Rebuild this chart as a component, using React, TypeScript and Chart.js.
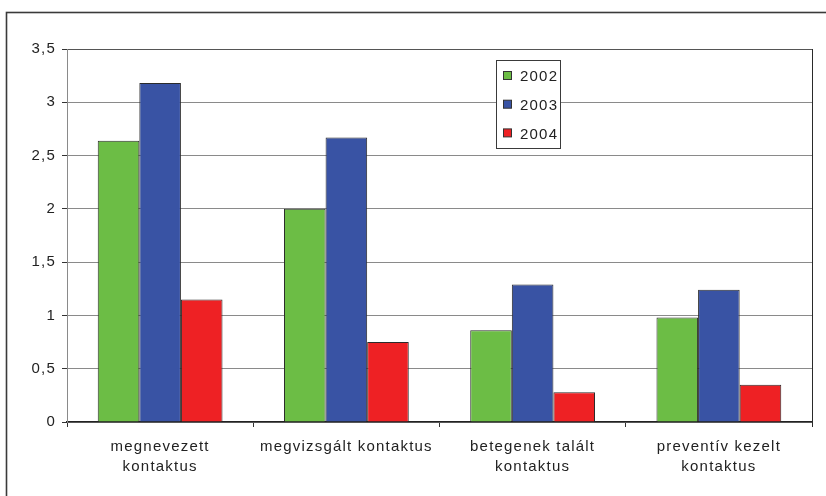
import React, { useEffect, useRef } from "react";
import { Chart, registerables } from "chart.js";

Chart.register(...registerables);

const categories: string[][] = [
  ["megnevezett", "kontaktus"],
  ["megvizsgált kontaktus"],
  ["betegenek talált", "kontaktus"],
  ["preventív kezelt", "kontaktus"],
];
const seriesNames = ["2002", "2003", "2004"];
const values2002 = [2.64, 2.0, 0.86, 0.98];
const values2003 = [3.18, 2.67, 1.29, 1.24];
const values2004 = [1.15, 0.75, 0.28, 0.35];
const seriesColors = ["#6cbd45", "#3953a4", "#ee2124"];

const FONT = "'Liberation Sans', Arial, sans-serif";
const SPACING = "1.2px";

const spacingPlugin = {
  id: "spacing",
  beforeUpdate(chart: any) {
    chart.ctx.letterSpacing = SPACING;
  },
  beforeDraw(chart: any) {
    const ctx = chart.ctx;
    ctx.letterSpacing = SPACING;
    ctx.save();
    ctx.fillStyle = "#ffffff";
    ctx.fillRect(0, 0, chart.width, chart.height);
    ctx.strokeStyle = "#3a3a3a";
    ctx.lineWidth = 1.6;
    ctx.strokeRect(6.5, 12.5, chart.width + 20, chart.height + 20);
    ctx.restore();
  },
  afterDraw(chart: any) {
    const ctx = chart.ctx;
    const a = chart.chartArea;
    ctx.save();
    ctx.strokeStyle = "#2a2a2a";
    ctx.lineWidth = 1;
    ctx.beginPath();
    ctx.moveTo(Math.round(a.right) + 0.5, a.top);
    ctx.lineTo(Math.round(a.right) + 0.5, a.bottom + 5);
    ctx.stroke();
    // legend box
    const bx = 496.5, by = 60.5, bw = 64, bh = 88;
    ctx.fillStyle = "#ffffff";
    ctx.fillRect(bx, by, bw, bh);
    ctx.strokeStyle = "#3a3a3a";
    ctx.strokeRect(bx, by, bw, bh);
    ctx.font = `15px ${FONT}`;
    ctx.textBaseline = "middle";
    ctx.textAlign = "left";
    chart.data.datasets.forEach((ds: any, i: number) => {
      const cy = 76 + i * 28.7;
      ctx.fillStyle = ds.backgroundColor;
      ctx.fillRect(503, cy - 4.5, 8, 8);
      ctx.strokeStyle = "#333";
      ctx.strokeRect(503.5, cy - 4.5, 8, 8);
      ctx.fillStyle = "#222";
      ctx.fillText(ds.label, 520, cy + 1);
    });
    ctx.restore();
  },
};

export default function App() {
  const ref = useRef<HTMLCanvasElement | null>(null);
  useEffect(() => {
    document.body.style.margin = "0";
    const canvas = ref.current!;
    const data = [values2002, values2003, values2004];
    const chart = new Chart(canvas, {
      type: "bar",
      data: {
        labels: categories,
        datasets: seriesNames.map((n, i) => ({
          label: n,
          data: data[i],
          backgroundColor: seriesColors[i],
          borderColor: "#2b2b2b",
          borderWidth: 1,
          categoryPercentage: 0.67,
          barPercentage: 1,
        })),
      },
      options: {
        animation: false,
        responsive: false,
        devicePixelRatio: 1,
        layout: { padding: { top: 49, right: 14, left: 0, bottom: 0 } },
        plugins: { legend: { display: false }, tooltip: { enabled: false } },
        scales: {
          x: {
            afterFit(scale: any) {
              scale.height = 74;
            },
            grid: {
              offset: true,
              drawOnChartArea: false,
              tickLength: 5,
              color: "#333",
            },
            border: { color: "#222", width: 1.5 },
            ticks: {
              color: "#222",
              font: { family: FONT, size: 15, lineHeight: 1.33 },
              padding: 10,
              maxRotation: 0,
              autoSkip: false,
            },
          },
          y: {
            min: 0,
            max: 3.5,
            afterFit(scale: any) {
              scale.width = 67;
            },
            grid: {
              color: (c: any) => (c.tick && c.tick.value === 3.5 ? "#555" : "#8a8a8a"),
              tickColor: "#333",
              tickLength: 5,
              lineWidth: 1,
            },
            border: { color: "#8a8a8a", width: 1 },
            ticks: {
              stepSize: 0.5,
              color: "#222",
              padding: 6,
              font: { family: FONT, size: 15 },
              callback: (v: any) => String(v).replace(".", ","),
            },
          },
        },
      },
      plugins: [spacingPlugin],
    });
    return () => chart.destroy();
  }, []);
  return (
    <div style={{ position: "absolute", left: 0, top: 0, width: 826, height: 496 }}>
      <canvas ref={ref} width={826} height={496} style={{ width: 826, height: 496 }} />
    </div>
  );
}
